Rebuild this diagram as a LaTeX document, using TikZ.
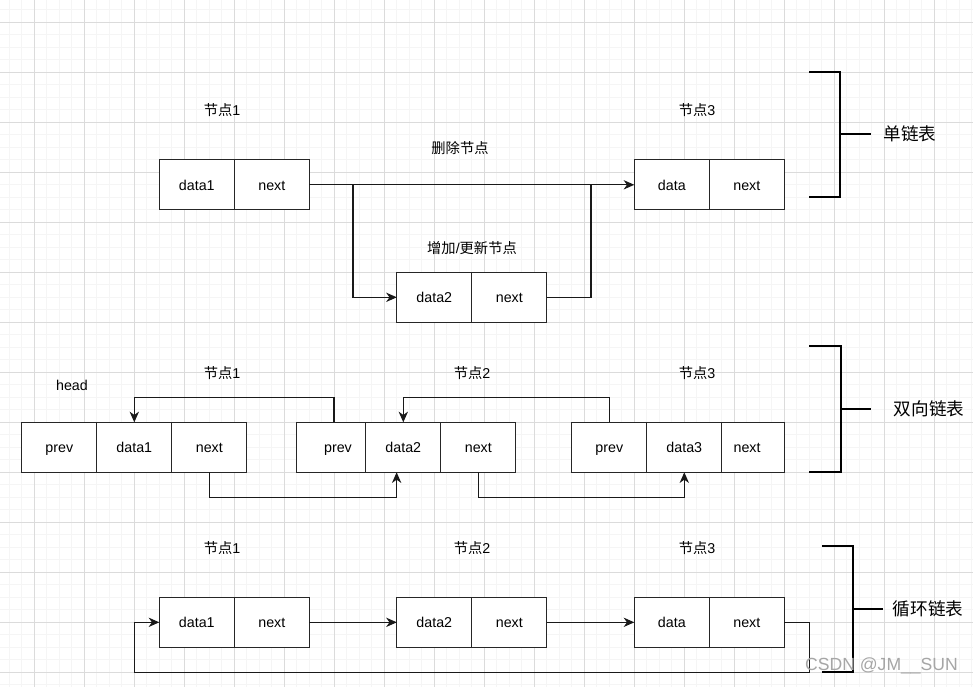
\documentclass[tikz,border=0pt]{standalone}
\usepackage{fontspec}
\setmainfont{Liberation Sans}
\newfontfamily\cjk{Noto Sans CJK SC}
\newcommand{\zh}[1]{{\cjk #1}}
\usetikzlibrary{arrows.meta,positioning}

\begin{document}
\begin{tikzpicture}[x=0.75pt, y=-0.75pt, >={Stealth[length=8pt,width=7pt,inset=2.5pt]},
  font=\fontsize{10.7}{13}\selectfont]
 \tikzset{
cell/.style = {draw=black!85, fill=white, line width=0.8pt, minimum width=56.25pt, minimum height=37.5pt, inner sep=0pt, outer sep=0pt, text height=7.8pt, text depth=0pt},
link/.style = {draw=black!90, line width=0.8pt},
arr/.style = {link, ->},
bracket/.style = {draw=black, line width=2pt},
title/.style = {font=\fontsize{13.2}{16}\selectfont},
gridminor/.style = {draw=black!4, line width=0.75pt},
gridmajor/.style = {draw=black!14, line width=0.75pt}}

    % background grid
    \useasboundingbox (0,0) rectangle (973,687);
    \fill[white] (0,0) rectangle (973,687);
    \foreach \k in {0,...,78} \draw[gridminor] (-3.2+12.5*\k,0) -- (-3.2+12.5*\k,687);
    \foreach \k in {0,...,54} \draw[gridminor] (0,9.8+12.5*\k) -- (973,9.8+12.5*\k);
    \foreach \k in {0,...,18} \draw[gridmajor] (34.3+50*\k,0) -- (34.3+50*\k,687);
    \foreach \k in {0,...,13} \draw[gridmajor] (0,22.3+50*\k) -- (973,22.3+50*\k);

    % singly linked list
    \node [cell] (SD1) at (196.8,184.8) {data1};
    \node [cell] (SN1) at (271.8,184.8) {next};
    \node [cell] (SD2) at (434.3,297.3) {data2};
    \node [cell] (SN2) at (509.3,297.3) {next};
    \node [cell] (SD3) at (671.8,184.8) {data};
    \node [cell] (SN3) at (746.8,184.8) {next};
    \node (SL1) at (222,110) {\zh{节点}1};
    \node (SL3) at (697,110) {\zh{节点}3};
    \node (SDel) at (460,148) {\zh{删除节点}};
    \node (SAdd) at (472,248) {\zh{增加}/\zh{更新节点}};
    \coordinate (SB1) at (353,184.8);
    \coordinate (SB2) at (591,184.8);
    \draw [arr] (SN1.east) -- (SD3.west);
    \draw [arr] (SB1) |- (SD2.west);
    \draw [link] (SN2.east) -| (SB2);

    % doubly linked list
    \node [cell] (DP1) at (59.3,447.3) {prev};
    \node [cell] (DD1) at (134.3,447.3) {data1};
    \node [cell] (DN1) at (209.3,447.3) {next};
    \node [cell, minimum width=51.75pt] (DP2) at (331.3,447.3) {\kern10pt prev};
    \node [cell] (DD2) at (403.3,447.3) {data2};
    \node [cell] (DN2) at (478.3,447.3) {next};
    \node [cell] (DP3) at (609.3,447.3) {prev};
    \node [cell] (DD3) at (684.3,447.3) {data3};
    \node [cell, minimum width=46.9pt] (DN3) at (753.1,447.3) {next\kern9pt};
    \node (DHead) at (72,385) {head};
    \node (DL1) at (222,373) {\zh{节点}1};
    \node (DL2) at (472,373) {\zh{节点}2};
    \node (DL3) at (697,373) {\zh{节点}3};
    \draw [arr] ([xshift=2pt]DP2.north) -- ++(0,-25) -| (DD1.north);
    \draw [arr] (DP3.north) -- ++(0,-25) -| (DD2.north);
    \draw [arr] (DN1.south) -- ++(0,25) -| ([xshift=-5pt]DD2.south);
    \draw [arr] (DN2.south) -- ++(0,25) -| (DD3.south);

    % circular linked list
    \node [cell] (CD1) at (196.8,622.3) {data1};
    \node [cell] (CN1) at (271.8,622.3) {next};
    \node [cell] (CD2) at (434.3,622.3) {data2};
    \node [cell] (CN2) at (509.3,622.3) {next};
    \node [cell] (CD3) at (671.8,622.3) {data};
    \node [cell] (CN3) at (746.8,622.3) {next};
    \node (CL1) at (222,548) {\zh{节点}1};
    \node (CL2) at (472,548) {\zh{节点}2};
    \node (CL3) at (697,548) {\zh{节点}3};
    \coordinate (CBack) at (134.7,672.3);
    \draw [arr] (CN1.east) -- (CD2.west);
    \draw [arr] (CN2.east) -- (CD3.west);
    \draw [arr] (CN3.east) -- ++(25,0) |- (CBack) |- (CD1.west);

    % brackets
    \draw [bracket] (809,72) -- (840,72) -- (840,197) -- (809,197);
    \draw [bracket] (840,134) -- (871,134);
    \node [title] (T1) at (910,134) {\zh{单链表}};
    \draw [bracket] (809,346) -- (841,346) -- (841,472) -- (809,472);
    \draw [bracket] (841,409) -- (871,409);
    \node [title] (T2) at (929,409) {\zh{双向链表}};
    \draw [bracket] (822,546) -- (853,546) -- (853,672) -- (822,672);
    \draw [bracket] (853,609) -- (883,609);
    \node [title] (T3) at (928,609) {\zh{循环链表}};

    \node [title, text=black!35] (WM) at (881.5,666) {CSDN @JM\_\_SUN};
\end{tikzpicture}
\end{document}
